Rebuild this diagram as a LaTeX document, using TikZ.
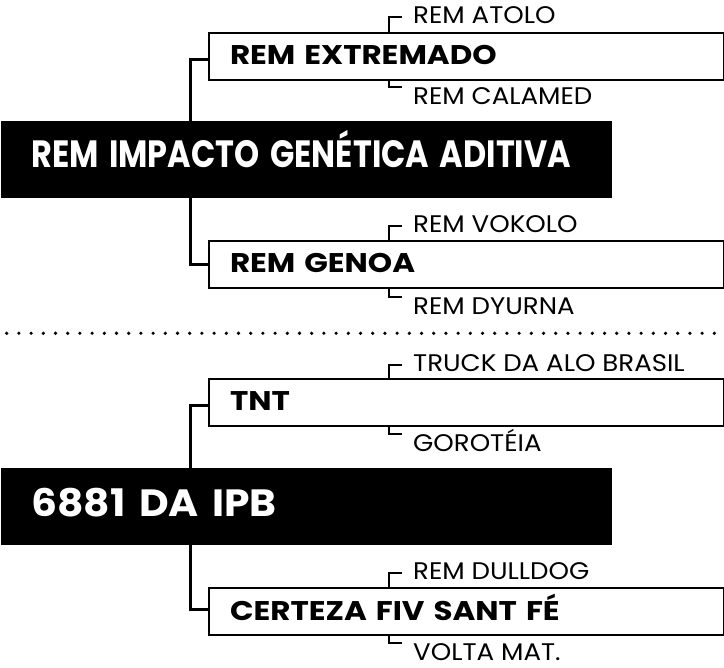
\documentclass[tikz,border=0pt]{standalone}
\usepackage{fontspec}
\setmainfont{Poppins}
\newfontfamily\lblfont[FakeStretch=1.085]{Poppins}
\newfontfamily\subfont[FakeStretch=1.147]{Poppins}
\begin{document}
\begin{tikzpicture}[x=1pt,y=-1pt,
  conn/.style={line width=3pt},
  brk/.style={line width=2pt},
  subbox/.style={draw, line width=2pt, anchor=north west, inner xsep=21pt, inner ysep=0pt,
    text width=473pt, align=left, minimum height=47pt, text height=17pt, text depth=0pt,
    font=\subfont\fontsize{27}{27}\selectfont\bfseries},
  mainbox/.style={fill=black, text=white, anchor=north west, inner xsep=30pt, inner ysep=0pt,
    text width=551pt, align=left, minimum height=77pt, text height=24pt,
    font=\fontsize{38}{38}\selectfont\bfseries},
  lbl/.style={anchor=base west, inner sep=0pt, font=\lblfont\fontsize{24}{24}\selectfont},
  dotline/.style={line width=3.6pt, line cap=round, dash pattern=on 0pt off 12.2pt}
]
\useasboundingbox (0,0) rectangle (724,668);

% top group
\node[mainbox, text depth=9pt] (black1) at (1,121) {\scalebox{0.84}[1]{REM IMPACTO GENÉTICA ADITIVA}};
\node[subbox] (box1) at (208,32) {REM EXTREMADO};
\node[subbox] (box2) at (208,240) {REM GENOA};
\coordinate (trunk) at (190,0);
\draw[conn] (black1.north -| trunk) |- ([yshift=-3pt]box1.west);
\draw[conn] (black1.south -| trunk) |- (box2.west);

\node[lbl] (lA) at (413,23.3) {REM ATOLO};
\node[lbl] (lB) at (413,105) {REM CALAMED};
\node[lbl] (lC) at (413,233) {REM VOKOLO};
\node[lbl] (lD) at (413,315) {REM DYURNA};

% separator
\coordinate (dl) at (6.7,333.3);
\coordinate (dr) at (724,333.3);
\draw[dotline] (dl) -- (dr);

% bottom group
\node[mainbox, text depth=4pt] (black2) at (1,468) {\scalebox{1.074}[1]{6881 DA IPB}};
\node[subbox] (box3) at (208,378) {TNT};
\node[subbox] (box4) at (208,587) {CERTEZA FIV SANT FÉ};
\draw[conn] (black2.north -| trunk) |- ([yshift=-3pt]box3.west);
\draw[conn] (black2.south -| trunk) |- ([yshift=2pt]box4.west);

\node[lbl] (lE) at (413,372) {TRUCK DA ALO BRASIL};
\node[lbl] (lF) at (413,452) {GOROTÉIA};
\node[lbl] (lG) at (413,580) {REM DULLDOG};
\node[lbl] (lH) at (413,660.5) {VOLTA MAT.};

% brackets
\foreach \l/\b in {lA/box1, lC/box2, lE/box3, lG/box4}{
  \path ([xshift=-24pt,yshift=6.6pt]\l.base west) coordinate (c\l);
  \draw[brk] (\b.north -| c\l) -- (c\l) -- ++(13pt,0);
}
\foreach \l/\b in {lB/box1, lD/box2, lF/box3}{
  \path ([xshift=-24pt,yshift=17.7pt]\l.base west) coordinate (c\l);
  \draw[brk] (\b.south -| c\l) -- (c\l) -- ++(13pt,0);
}
\path ([xshift=-24pt,yshift=17.5pt]lH.base west) coordinate (clH);
\draw[brk] (box4.south -| clH) -- (clH) -- ++(13pt,0);
\end{tikzpicture}
\end{document}
